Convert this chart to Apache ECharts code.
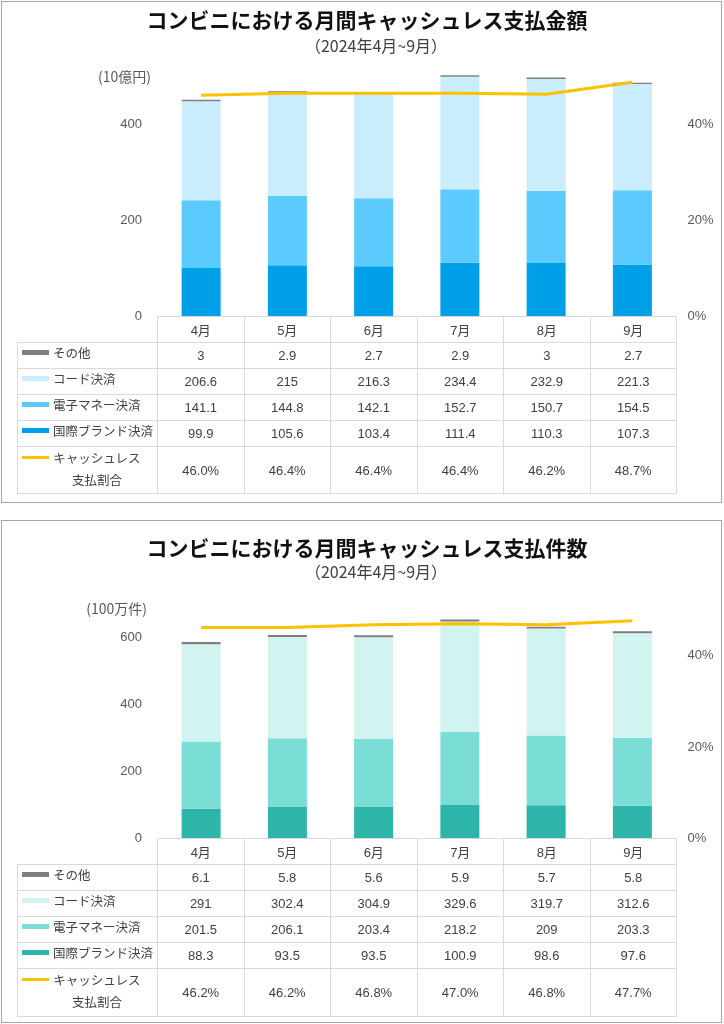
<!DOCTYPE html>
<html><head><meta charset="utf-8">
<script src="https://cdn.jsdelivr.net/npm/echarts@6/dist/echarts.min.js"></script>
<style>
body{margin:0;width:724px;height:1024px;position:relative;background:#fff;font-family:"Liberation Sans","Noto Sans CJK JP",sans-serif;overflow:hidden;}
.box{position:absolute;border:1px solid #A6A6A6;box-sizing:border-box;background:#fff;}
#chart{position:absolute;left:0;top:0;width:724px;height:1024px;}
table.dt{position:absolute;border-collapse:collapse;table-layout:fixed;font-size:13px;color:#404040;}
table.dt td{border:1px solid #D9D9D9;text-align:center;padding:0;overflow:hidden;white-space:nowrap;}
table.dt td.corner{border-top:hidden;border-left:hidden;}
table.dt td.lab{text-align:left;position:relative;font-size:12.5px;}
.key{position:absolute;left:4px;width:27px;height:5px;}
.ktxt{position:absolute;left:35px;line-height:18px;}
.kline{position:absolute;left:4px;width:27px;height:3px;}
.ktxt2{position:absolute;left:35px;width:88px;text-align:center;line-height:22px;}
</style>
</head><body>
<div class="box" style="left:1px;top:1px;width:721px;height:502px;"></div>
<div class="box" style="left:1px;top:520px;width:721px;height:503px;"></div>
<div id="chart"></div>
<table class="dt" id="t1" style="left:17px;top:316px;width:659px;"></table>
<table class="dt" id="t2" style="left:17px;top:838px;width:659px;"></table>
<script>
// ---- data ----
var months = ['4月','5月','6月','7月','8月','9月'];
var seriesNames = ['その他','コード決済','電子マネー決済','国際ブランド決済'];
var ratioName = ['キャッシュレス','支払割合'];
// amount (10億円)
var amtOther  = [3, 2.9, 2.7, 2.9, 3, 2.7];
var amtCode   = [206.6, 215, 216.3, 234.4, 232.9, 221.3];
var amtEmoney = [141.1, 144.8, 142.1, 152.7, 150.7, 154.5];
var amtIntl   = [99.9, 105.6, 103.4, 111.4, 110.3, 107.3];
var amtRatio  = [46.0, 46.4, 46.4, 46.4, 46.2, 48.7];
// count (100万件)
var cntOther  = [6.1, 5.8, 5.6, 5.9, 5.7, 5.8];
var cntCode   = [291, 302.4, 304.9, 329.6, 319.7, 312.6];
var cntEmoney = [201.5, 206.1, 203.4, 218.2, 209, 203.3];
var cntIntl   = [88.3, 93.5, 93.5, 100.9, 98.6, 97.6];
var cntRatio  = [46.2, 46.2, 46.8, 47.0, 46.8, 47.7];

var grey = '#7F7F7F', gold = '#FFC000';
var blueCols = ['#00A0E9', '#5BCBFD', '#C9EDFC'];
var tealCols = ['#2DB5AA', '#7ADED7', '#D2F4F0'];

var CJK = '"Noto Sans CJK JP", sans-serif';
var NUM = '"Liberation Sans", "Noto Sans CJK JP", sans-serif';

function yLeft(gi, max){
  return {type:'value', gridIndex:gi, min:0, max:max, interval:200,
    axisLine:{show:false}, axisTick:{show:false}, splitLine:{show:false},
    axisLabel:{showMaxLabel:false, color:'#595959', fontSize:13, fontFamily:NUM, margin:16}};
}
function yRight(gi, max){
  return {type:'value', gridIndex:gi, position:'right', min:0, max:max, interval:20,
    axisLine:{show:false}, axisTick:{show:false}, splitLine:{show:false},
    axisLabel:{showMaxLabel:false, color:'#595959', fontSize:13, fontFamily:NUM, margin:12, formatter:'{value}%'}};
}
function xCat(gi){
  return {type:'category', gridIndex:gi, data:months, axisLine:{show:false}, axisTick:{show:false}, axisLabel:{show:false}};
}
function bars(xi, yi, intl, emo, code, other, cols){
  var arr = [[seriesNames[3], intl, cols[0]],[seriesNames[2], emo, cols[1]],[seriesNames[1], code, cols[2]],[seriesNames[0], other, grey]];
  return arr.map(function(a){
    return {name:a[0], type:'bar', stack:'s'+xi, xAxisIndex:xi, yAxisIndex:yi, data:a[1], barWidth:39,
      itemStyle:{color:a[2]}};
  });
}
function line(xi, yi, data){
  return {name:'ratio', type:'line', xAxisIndex:xi, yAxisIndex:yi, data:data, symbol:'none',
    lineStyle:{color:gold, width:3}, z:5};
}
function txt(x, y, s, size, weight, align, color, font){
  return {type:'text', x:x, y:y, silent:true,
    style:{text:s, font:(weight||'normal')+' '+size+'px '+(font||CJK), fill:color||'#595959', align:align||'center', verticalAlign:'middle', textAlign:align||'center', textVerticalAlign:'middle'}};
}

var chart = echarts.init(document.getElementById('chart'), null, {renderer:'canvas'});
chart.setOption({
  animation:false,
  grid:[
    {left:158, right:48.5, top:66.4, height:249.6},
    {left:158, right:48.5, top:604.3, height:234}
  ],
  xAxis:[xCat(0), xCat(1)],
  yAxis:[yLeft(0,520), yRight(0,52), yLeft(1,700), yRight(1,51.29)],
  series:[].concat(
    bars(0,0,amtIntl,amtEmoney,amtCode,amtOther,blueCols),
    [line(0,1,amtRatio)],
    bars(1,2,cntIntl,cntEmoney,cntCode,cntOther,tealCols),
    [line(1,3,cntRatio)]
  ),
  graphic:[
    txt(367, 20, 'コンビニにおける月間キャッシュレス支払金額', 21, 'bold', 'center', '#111'),
    txt(376, 46, '（2024年4月~9月）', 16, 'normal', 'center', '#404040'),
    txt(151, 77, '(10億円)', 14, 'normal', 'right', '#595959'),
    txt(367, 548, 'コンビニにおける月間キャッシュレス支払件数', 21, 'bold', 'center', '#111'),
    txt(376, 572, '（2024年4月~9月）', 16, 'normal', 'center', '#404040'),
    txt(147, 609, '(100万件)', 14, 'normal', 'right', '#595959')
  ]
});

function buildTable(id, other, code, emo, intl, ratio, cols, heights){
  var t = document.getElementById(id);
  var h = '<colgroup><col style="width:140px">';
  for (var i=0;i<months.length;i++) h += '<col style="width:86.5px">';
  h += '</colgroup>';
  h += '<tr style="height:'+heights[0]+'px"><td class="corner"></td>';
  months.forEach(function(m){ h += '<td>'+m+'</td>'; });
  h += '</tr>';
  var rows = [[seriesNames[0], other, grey],[seriesNames[1], code, cols[2]],[seriesNames[2], emo, cols[1]],[seriesNames[3], intl, cols[0]]];
  rows.forEach(function(r, k){
    var hh = heights[k+1];
    h += '<tr style="height:'+hh+'px"><td class="lab"><div class="key" style="background:'+r[2]+';top:'+(hh/2-6)+'px"></div><div class="ktxt" style="top:'+(hh/2-11)+'px">'+r[0]+'</div></td>';
    r[1].forEach(function(v){ h += '<td>'+v+'</td>'; });
    h += '</tr>';
  });
  var lh = heights[5];
  h += '<tr style="height:'+lh+'px"><td class="lab"><div class="kline" style="background:'+gold+';top:9px"></div><div class="ktxt2" style="top:1px">'+ratioName[0]+'<br>'+ratioName[1]+'</div></td>';
  ratio.forEach(function(v){ h += '<td>'+v.toFixed(1)+'%</td>'; });
  h += '</tr>';
  t.innerHTML = h;
}
buildTable('t1', amtOther, amtCode, amtEmoney, amtIntl, amtRatio, blueCols, [26,26,26,26,26,47]);
buildTable('t2', cntOther, cntCode, cntEmoney, cntIntl, cntRatio, tealCols, [26,26,26,26,26,48]);
</script>
</body></html>
